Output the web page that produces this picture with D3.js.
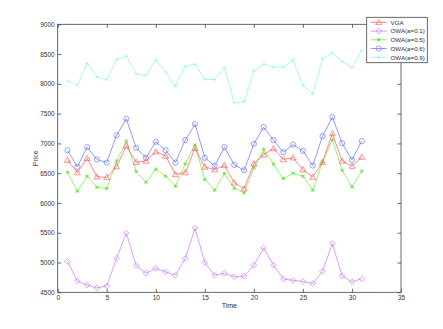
<!DOCTYPE html>
<html><head><meta charset="utf-8">
<script src="https://cdn.jsdelivr.net/npm/d3@7"></script>
<style>body{margin:0;background:#fff}svg{display:block}text{font-family:"Liberation Sans",Arial,sans-serif}</style>
</head><body>
<svg id="c" width="443" height="329"></svg>
<script>
const time = d3.range(1, 32);
const seriesNames = ["VGA", "OWA(a=0.1)", "OWA(a=0.5)", "OWA(a=0.6)", "OWA(a=0.9)"];
const vga = [6720,6510,6750,6440,6430,6610,6960,6685,6705,6860,6790,6480,6510,6920,6605,6560,6630,6340,6240,6660,6810,6915,6730,6760,6560,6435,6685,7165,6705,6620,6770];
const owa01 = [5017,4690,4623,4573,4606,5073,5493,4950,4820,4900,4843,4787,5067,5577,5000,4787,4820,4760,4770,4955,5246,4955,4726,4700,4683,4646,4853,5317,4776,4677,4726];
const owa05 = [6517,6198,6450,6265,6243,6702,7039,6528,6349,6567,6450,6282,6657,6971,6394,6215,6494,6248,6170,6590,6903,6651,6410,6500,6450,6215,6685,7060,6550,6270,6534];
const owa06 = [6886,6606,6937,6730,6679,7138,7413,6925,6758,7027,6886,6679,7055,7323,6758,6623,6937,6640,6550,6992,7272,7055,6852,6981,6875,6629,7121,7441,7003,6724,7038];
const owa09 = [8050,7978,8347,8118,8067,8409,8470,8168,8140,8398,8196,7961,8297,8330,8073,8073,8274,7681,7698,8224,8330,8280,8280,8398,7972,7826,8425,8515,8375,8274,8565];
const xTicks = [0,5,10,15,20,25,30,35];
const yTicks = [4500,5000,5500,6000,6500,7000,7500,8000,8500,9000];
const colors = ["#ff4a4a","#c86aff","#66e833","#5566ff","#7af7e0"];
const markers = ["tri","diamond","star","circle","x"];
const data = [vga, owa01, owa05, owa06, owa09];

const svg = d3.select("#c");
const L=57.7, R=401, T=24.3, B=292.3;
const x = d3.scaleLinear().domain([0,35]).range([L,R]);
const y = d3.scaleLinear().domain([4500,9000]).range([B,T]);
const axCol = "#444";
const fs = 6.5;

svg.append("rect").attr("x",L).attr("y",T).attr("width",R-L).attr("height",B-T)
  .attr("fill","none").attr("stroke",axCol).attr("stroke-width",0.8);

const tl = 3.5;
const gx = svg.append("g").attr("transform",`translate(0,${B})`)
  .call(d3.axisBottom(x).tickValues(xTicks).tickSize(-tl).tickPadding(3).tickFormat(d3.format("d")));
const gxt = svg.append("g").attr("transform",`translate(0,${T})`)
  .call(d3.axisTop(x).tickValues(xTicks).tickSize(-tl).tickFormat(""));
const gy = svg.append("g").attr("transform",`translate(${L},0)`)
  .call(d3.axisLeft(y).tickValues(yTicks).tickSize(-tl).tickPadding(3).tickFormat(d3.format("d")));
const gyr = svg.append("g").attr("transform",`translate(${R},0)`)
  .call(d3.axisRight(y).tickValues(yTicks).tickSize(-tl).tickFormat(""));
[gx,gxt,gy,gyr].forEach(g=>{
  g.select(".domain").remove();
  g.selectAll("line").attr("stroke",axCol).attr("stroke-width",0.8);
  g.selectAll("text").attr("fill","#333").style("font-size",fs+"px").style("font-family","'Liberation Sans',Arial,sans-serif");
});

svg.append("text").attr("x",(L+R)/2).attr("y",308).attr("text-anchor","middle")
  .style("font-size","7px").attr("fill","#333").text("Time");
svg.append("text").attr("transform",`translate(38,${(T+B)/2}) rotate(-90)`).attr("text-anchor","middle")
  .style("font-size","7px").attr("fill","#333").text("Price");

function drawMarker(g, type, cx, cy, col){
  if(type==="tri"){
    const s=3;
    g.append("path").attr("d",`M${cx},${cy-s}L${cx+s},${cy+s*0.75}L${cx-s},${cy+s*0.75}Z`)
      .attr("fill","none").attr("stroke",col).attr("stroke-width",0.6);
  } else if(type==="diamond"){
    const s=2.9;
    g.append("path").attr("d",`M${cx},${cy-s}L${cx+s},${cy}L${cx},${cy+s}L${cx-s},${cy}Z`)
      .attr("fill","none").attr("stroke",col).attr("stroke-width",0.6);
  } else if(type==="circle"){
    g.append("circle").attr("cx",cx).attr("cy",cy).attr("r",2.6)
      .attr("fill","none").attr("stroke",col).attr("stroke-width",0.6);
  } else if(type==="star"){
    const s=1.6;
    g.append("path").attr("d",`M${cx-s},${cy}L${cx+s},${cy}M${cx},${cy-s}L${cx},${cy+s}M${cx-s},${cy-s}L${cx+s},${cy+s}M${cx-s},${cy+s}L${cx+s},${cy-s}`)
      .attr("stroke",col).attr("stroke-width",0.8);
  } else if(type==="x"){
    const s=1.4;
    g.append("path").attr("d",`M${cx-s},${cy-s}L${cx+s},${cy+s}M${cx-s},${cy+s}L${cx+s},${cy-s}`)
      .attr("stroke",col).attr("stroke-width",0.6);
  }
}

const line = d3.line().x((d,i)=>x(time[i])).y(d=>y(d));
[4,3,2,1,0].forEach(k=>{
  const g = svg.append("g");
  g.append("path").datum(data[k]).attr("d",line).attr("fill","none")
    .attr("stroke",colors[k]).attr("stroke-width",0.65);
  data[k].forEach((v,i)=>drawMarker(g, markers[k], x(time[i]), y(v), colors[k]));
});

const lg = svg.append("g");
const lx=366.7, ly=17.3, lw=60.6, lh=45.4;
lg.append("rect").attr("x",lx).attr("y",ly).attr("width",lw).attr("height",lh)
  .attr("fill","#fff").attr("stroke",axCol).attr("stroke-width",0.8);
seriesNames.forEach((n,k)=>{
  const yy = 22.3 + k*8.75;
  lg.append("line").attr("x1",370.7).attr("x2",386.7).attr("y1",yy).attr("y2",yy)
    .attr("stroke",colors[k]).attr("stroke-width",0.7);
  drawMarker(lg, markers[k], 378.7, yy, colors[k]);
  lg.append("text").attr("x",390.5).attr("y",yy+2.2).style("font-size","6.2px").attr("fill","#333").text(n);
});
</script>
</body></html>
